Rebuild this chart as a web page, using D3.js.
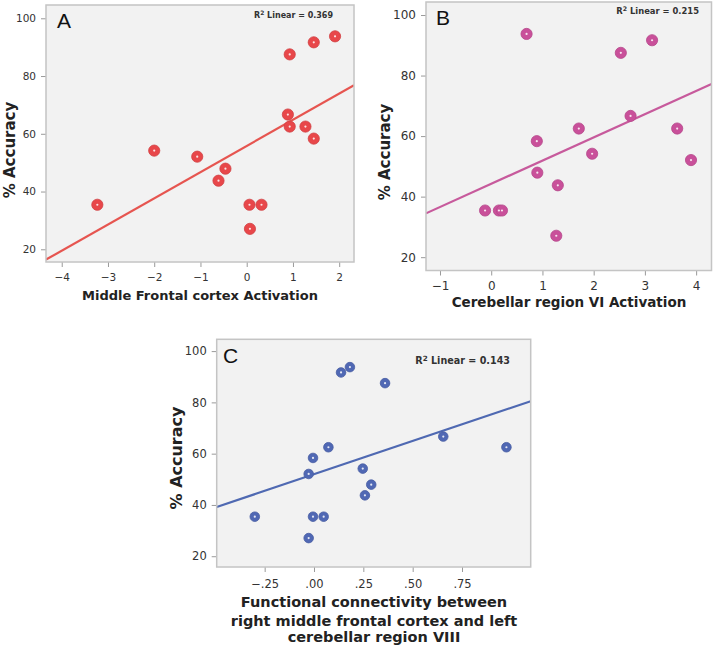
<!DOCTYPE html>
<html>
<head>
<meta charset="utf-8">
<script src="https://cdn.jsdelivr.net/npm/d3@7"></script>
<style>
  body { margin: 0; background: #fff; }
  text { font-family: "DejaVu Sans", sans-serif; }
</style>
</head>
<body>
<svg id="chart" width="713" height="646"></svg>
<script>
// % accuracy, same subject order in every panel
var accuracy = [93.75, 91.67, 87.5, 66.67, 62.5, 62.5, 58.33, 54.17, 52.08, 47.92, 43.75, 35.42, 35.42, 35.42, 27.08];

// x values
var frontalActivation = [1.91, 1.45, 0.93, 0.89, 0.93, 1.27, 1.45, -2.0, -1.07, -0.46, -0.61, -3.23, 0.06, 0.32, 0.07];
var cerebellarActivation = [0.69, 3.14, 2.53, 2.72, 1.71, 3.63, 0.89, 1.97, 3.90, 0.90, 1.30, -0.12, 0.15, 0.21, 1.27];
var connectivity = [0.182, 0.137, 0.36, 0.655, 0.975, 0.073, -0.005, 0.247, -0.027, 0.29, 0.258, -0.30, -0.005, 0.049, -0.027];

var yTicks = [20, 40, 60, 80, 100];
var xTicksA = [-4, -3, -2, -1, 0, 1, 2];
var xTicksB = [-1, 0, 1, 2, 3, 4];
var xTicksC = [-0.25, 0, 0.25, 0.5, 0.75];

var panelLetters = ["A", "B", "C"];
var r2Values = ["0.369", "0.215", "0.143"];
var yTitle = "% Accuracy";
var xTitles = [
  ["Middle Frontal cortex Activation"],
  ["Cerebellar region VI Activation"],
  ["Functional connectivity between", "right middle frontal cortex and left", "cerebellar region VIII"]
];

var svg = d3.select("#chart");

// layout of the three panels
var panels = [
  {
    xs: frontalActivation, xTicks: xTicksA, xFormat: d3.format("d"),
    xDomain: [-4.34, 2.32], yDomain: [15.6, 104.6],
    left: 46, top: 5, right: 354, bottom: 262,
    color: "#e8474a", lineColor: "#e65550", r: 5.6,
    tickFont: 10.5, tickPad: 7, titleFont: 13, yTitleFont: 15, r2Font: 8,
    yTitlePos: [10, 150], titleY: [300], titleX: 200,
    letterPos: [57, 28], r2Pos: [333, 18]
  },
  {
    xs: cerebellarActivation, xTicks: xTicksB, xFormat: d3.format("d"),
    xDomain: [-1.273, 4.30], yDomain: [15.6, 104.3],
    left: 426, top: 2, right: 711.5, bottom: 270.5,
    color: "#c9509a", lineColor: "#c75a9c", r: 5.6,
    tickFont: 12, tickPad: 5.5, titleFont: 13.5, yTitleFont: 15, r2Font: 8.4,
    yTitlePos: [385, 152], titleY: [307], titleX: 569,
    letterPos: [436, 25], r2Pos: [699, 14]
  },
  {
    xs: connectivity, xTicks: xTicksC,
    xFormat: function(d) { return d3.format(".2f")(d).replace("0.", "."); },
    xDomain: [-0.493, 1.098], yDomain: [15.8, 104.6],
    left: 216.7, top: 339.3, right: 530.7, bottom: 567,
    color: "#5068b4", lineColor: "#4f69b2", r: 4.8,
    tickFont: 11.5, tickPad: 7.5, titleFont: 14.5, yTitleFont: 16, r2Font: 9.6,
    yTitlePos: [176, 458], titleY: [607, 625.5, 642], titleX: 374,
    letterPos: [223, 363], r2Pos: [510, 364]
  }
];

function regression(xs, ys) {
  var mx = d3.mean(xs), my = d3.mean(ys);
  var sxy = d3.sum(xs, (d, i) => (d - mx) * (ys[i] - my));
  var sxx = d3.sum(xs, d => (d - mx) * (d - mx));
  var slope = sxy / sxx;
  return { slope: slope, intercept: my - slope * mx };
}

panels.forEach(function(p, k) {
  var x = d3.scaleLinear().domain(p.xDomain).range([p.left, p.right]);
  var y = d3.scaleLinear().domain(p.yDomain).range([p.bottom, p.top]);
  var g = svg.append("g");

  // plot background
  g.append("rect")
    .attr("x", p.left).attr("y", p.top)
    .attr("width", p.right - p.left).attr("height", p.bottom - p.top)
    .attr("fill", "#f2f2f2");

  // axes
  var xAxis = g.append("g")
    .attr("transform", `translate(0, ${p.bottom})`)
    .call(d3.axisBottom(x).tickValues(p.xTicks).tickFormat(p.xFormat).tickSize(5).tickPadding(p.tickPad));
  var yAxis = g.append("g")
    .attr("transform", `translate(${p.left}, 0)`)
    .call(d3.axisLeft(y).tickValues(yTicks).tickSize(5).tickPadding(5));

  [xAxis, yAxis].forEach(function(a) {
    a.select(".domain").remove();
    a.selectAll(".tick line").attr("stroke", "#9a9a9a").attr("stroke-width", 1);
    a.selectAll(".tick text")
      .attr("fill", "#333")
      .style("font-size", p.tickFont + "px")
      .style("font-family", "DejaVu Sans, sans-serif");
  });

  // fit line, clipped to the frame
  var clipId = "clip" + k;
  g.append("clipPath").attr("id", clipId)
    .append("rect")
    .attr("x", p.left).attr("y", p.top)
    .attr("width", p.right - p.left).attr("height", p.bottom - p.top);

  var fit = regression(p.xs, accuracy);
  g.append("line")
    .attr("clip-path", `url(#${clipId})`)
    .attr("x1", x(p.xDomain[0])).attr("y1", y(fit.intercept + fit.slope * p.xDomain[0]))
    .attr("x2", x(p.xDomain[1])).attr("y2", y(fit.intercept + fit.slope * p.xDomain[1]))
    .attr("stroke", p.lineColor)
    .attr("stroke-width", 2.2);

  // points
  var pts = g.selectAll(".pt")
    .data(p.xs.map((d, i) => ({ x: d, y: accuracy[i] })))
    .enter();

  pts.append("circle")
    .attr("cx", d => x(d.x)).attr("cy", d => y(d.y))
    .attr("r", p.r)
    .attr("fill", p.color)
    .attr("stroke", d3.color(p.color).darker(0.3))
    .attr("stroke-width", 0.8);

  pts.append("circle")
    .attr("cx", d => x(d.x)).attr("cy", d => y(d.y))
    .attr("r", 1.1)
    .attr("fill", "#fff")
    .attr("opacity", 0.85);

  // frame
  g.append("rect")
    .attr("x", p.left).attr("y", p.top)
    .attr("width", p.right - p.left).attr("height", p.bottom - p.top)
    .attr("fill", "none")
    .attr("stroke", "#c4c4c4")
    .attr("stroke-width", 1.5);

  // panel letter
  g.append("text")
    .attr("x", p.letterPos[0]).attr("y", p.letterPos[1])
    .style("font-family", "Liberation Sans, Arial, sans-serif")
    .style("font-size", "21px")
    .attr("fill", "#111")
    .text(panelLetters[k]);

  // R² label
  var r2 = g.append("text")
    .attr("x", p.r2Pos[0]).attr("y", p.r2Pos[1])
    .attr("text-anchor", "end")
    .style("font-size", p.r2Font + "px")
    .style("font-weight", "bold")
    .attr("fill", "#333");
  r2.append("tspan").text("R");
  r2.append("tspan").attr("dy", -p.r2Font * 0.35).style("font-size", (p.r2Font * 0.75) + "px").text("2");
  r2.append("tspan").attr("dy", p.r2Font * 0.35).text(" Linear = " + r2Values[k]);

  // y title
  g.append("text")
    .attr("transform", `translate(${p.yTitlePos[0]}, ${p.yTitlePos[1]}) rotate(-90)`)
    .attr("text-anchor", "middle")
    .attr("dy", "0.35em")
    .style("font-size", p.yTitleFont + "px")
    .style("font-weight", "bold")
    .attr("fill", "#222")
    .text(yTitle);

  // x title
  xTitles[k].forEach(function(line, j) {
    g.append("text")
      .attr("x", p.titleX).attr("y", p.titleY[j])
      .attr("text-anchor", "middle")
      .style("font-size", p.titleFont + "px")
      .style("font-weight", "bold")
      .attr("fill", "#222")
      .text(line);
  });
});
</script>
</body>
</html>
